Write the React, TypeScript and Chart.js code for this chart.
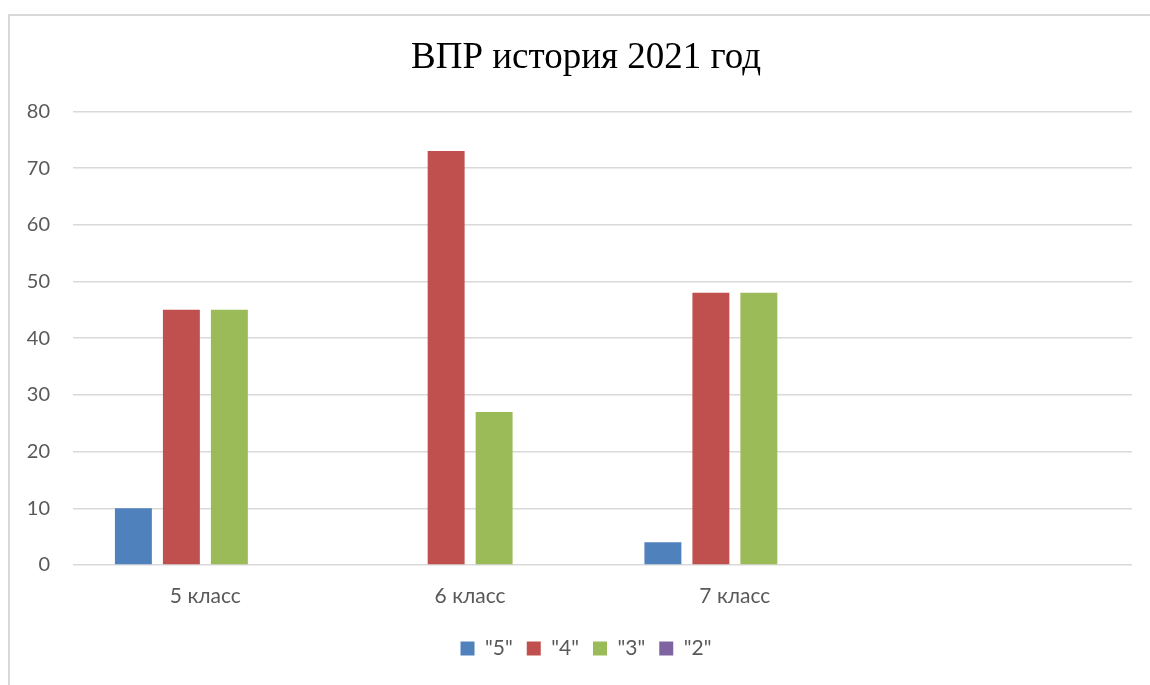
import React, { useEffect, useRef } from "react";
import { Chart, registerables } from "chart.js";

Chart.register(...registerables);

const categories = ["5 класс", "6 класс", "7 класс", ""];
const seriesNames = ['"5"', '"4"', '"3"', '"2"'];
const grade5 = [10, 0, 4, null];
const grade4 = [45, 73, 48, null];
const grade3 = [45, 27, 48, null];
const grade2 = [0, 0, 0, null];
const seriesColors = ["#4f81bd", "#c0504d", "#9bbb59", "#8064a2"];
const titleText = "ВПР история 2021 год";

export default function App() {
  const ref = useRef<HTMLCanvasElement>(null);
  useEffect(() => {
    if (!ref.current) return;
    const data = [grade5, grade4, grade3, grade2];
    const chart = new Chart(ref.current, {
      type: "bar",
      data: {
        labels: categories,
        datasets: seriesNames.map((n, i) => ({
          label: n,
          data: data[i] as any,
          backgroundColor: seriesColors[i],
          borderWidth: 0,
          categoryPercentage: 0.725,
          barPercentage: 0.77,
        })),
      },
      options: {
        animation: false,
        responsive: false,
        maintainAspectRatio: false,
        layout: { padding: { left: 0, right: 1, top: 0, bottom: 16 } },
        plugins: {
          tooltip: { enabled: false },
          title: {
            display: true,
            text: titleText,
            color: "#000000",
            font: { family: "'Liberation Serif', 'Times New Roman', serif", size: 37, weight: "normal" },
            padding: { top: 20, bottom: 31 },
          },
          legend: {
            position: "bottom",
            labels: {
              boxWidth: 14,
              boxHeight: 14,
              padding: 14,
              color: "#595959",
              font: { family: "Lato, 'Open Sans', sans-serif", size: 21 },
            },
          },
        },
        scales: {
          x: {
            grid: { display: false, drawTicks: false },
            border: { display: false },
            ticks: {
              color: "#595959",
              font: { family: "Lato, 'Open Sans', sans-serif", size: 21 },
              padding: 19,
              maxRotation: 0,
            },
            afterFit: (s: any) => {
              s.height = 59;
            },
          },
          y: {
            min: 0,
            max: 80,
            ticks: {
              stepSize: 10,
              color: "#595959",
              font: { family: "Lato, 'Open Sans', sans-serif", size: 20 },
              padding: 23,
            },
            grid: { color: "#d9d9d9", lineWidth: 1.5, drawTicks: false },
            border: { display: false },
            afterFit: (s: any) => {
              s.width = 63;
            },
          },
          yRight: {
            position: "right",
            display: true,
            grid: { display: false, drawTicks: false },
            border: { display: false },
            ticks: { display: false },
            afterFit: (s: any) => {
              s.width = 30;
            },
          },
        },
      },
    });
    return () => chart.destroy();
  }, []);

  return (
    <div style={{ position: "absolute", left: 0, top: 0, width: 1150, height: 685, overflow: "hidden", background: "#fff" }}>
      <div
        style={{
          position: "absolute",
          left: 8,
          top: 14,
          width: 1200,
          height: 720,
          border: "2px solid #d9d9d9",
          boxSizing: "border-box",
        }}
      />
      <canvas
        ref={ref}
        width={1153}
        height={669}
        style={{ position: "absolute", left: 10, top: 16, width: 1153, height: 669 }}
      />
    </div>
  );
}
